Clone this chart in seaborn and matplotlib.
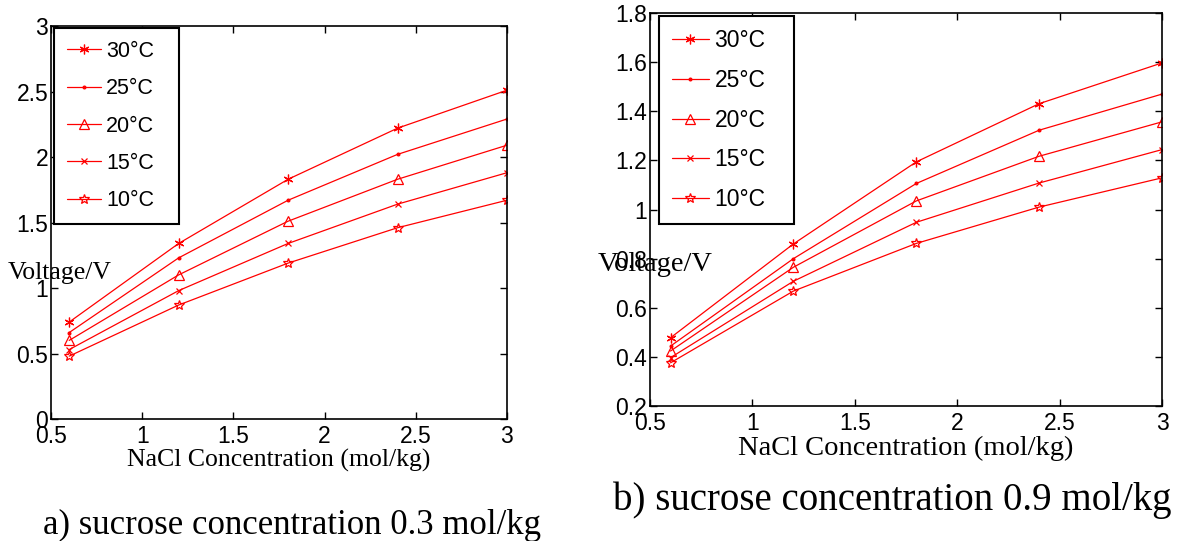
import matplotlib
matplotlib.use("Agg")
import matplotlib.pyplot as plt
import seaborn as sns
import pandas as pd
from matplotlib.ticker import FuncFormatter

# NaCl concentration (mol/kg)
nacl = [0.6, 1.2, 1.8, 2.4, 3.0]
temps = ["30°C", "25°C", "20°C", "15°C", "10°C"]

# panel a) sucrose 0.3 mol/kg
volt_a_30 = [0.74, 1.34, 1.83, 2.22, 2.51]
volt_a_25 = [0.66, 1.23, 1.67, 2.02, 2.29]
volt_a_20 = [0.60, 1.10, 1.51, 1.83, 2.09]
volt_a_15 = [0.53, 0.98, 1.34, 1.64, 1.88]
volt_a_10 = [0.48, 0.87, 1.19, 1.46, 1.67]

# panel b) sucrose 0.9 mol/kg
volt_b_30 = [0.478, 0.86, 1.194, 1.431, 1.597]
volt_b_25 = [0.444, 0.80, 1.106, 1.323, 1.470]
volt_b_20 = [0.424, 0.765, 1.035, 1.217, 1.357]
volt_b_15 = [0.397, 0.708, 0.948, 1.108, 1.244]
volt_b_10 = [0.376, 0.668, 0.862, 1.010, 1.129]

captions = ["a) sucrose concentration 0.3 mol/kg",
            "b) sucrose concentration 0.9 mol/kg"]

sns.set_theme(style="ticks")
plt.rcParams["font.family"] = ["Liberation Sans", "DejaVu Sans"]
plt.rcParams["text.color"] = "black"
plt.rcParams["axes.labelcolor"] = "black"

markers = [(6, 2, 0), ".", "^", "x", "*"]
msizes = [7, 4, 7, 5, 7]
mfcs = ["red", "red", "none", "red", "none"]


def make_df(series):
    rows = []
    for t, vals in zip(temps, series):
        for x, v in zip(nacl, vals):
            rows.append({"NaCl": x, "Voltage": v, "Temp": t})
    return pd.DataFrame(rows)


df_a = make_df([volt_a_30, volt_a_25, volt_a_20, volt_a_15, volt_a_10])
df_b = make_df([volt_b_30, volt_b_25, volt_b_20, volt_b_15, volt_b_10])

fig = plt.figure(figsize=(11.77, 5.41), dpi=100)
ax_a = fig.add_axes([0.0433, 0.2255, 0.3874, 0.7264])
ax_b = fig.add_axes([0.5523, 0.2495, 0.435, 0.7264])

panels = [
    (ax_a, df_a, (0, 3), [0, 0.5, 1, 1.5, 2, 2.5, 3], 15.5, 18.5,
     (0.0066, 0.3, 0.274, 0.695), (0.02, 0.371), 1.58, 0.76, 0.6),
    (ax_b, df_b, (0.2, 1.8), [0.2, 0.4, 0.6, 0.8, 1, 1.2, 1.4, 1.6, 1.8], 16.5, 20.5,
     (0.0176, 0.3, 0.264, 0.692), (0.01, 0.359), 1.6, 0.73, 0.57),
]

for ax, df, ylim, yticks, lfs, labfs, lbox, ycoords, hl, lsp, bpad in panels:
    for i, t in enumerate(temps):
        sub = df[df["Temp"] == t]
        sns.lineplot(data=sub, x="NaCl", y="Voltage", ax=ax, color="red",
                     lw=0.9, marker=markers[i], ms=msizes[i], mfc=mfcs[i],
                     mec="red", mew=0.9, label=t)
    ax.set_xlim(0.5, 3)
    ax.set_ylim(*ylim)
    ax.set_xticks([0.5, 1, 1.5, 2, 2.5, 3])
    ax.set_yticks(yticks)
    fmt = FuncFormatter(lambda v, p: "%g" % v)
    ax.xaxis.set_major_formatter(fmt)
    ax.yaxis.set_major_formatter(fmt)
    ax.tick_params(direction="in", top=True, right=True, length=5, width=1,
                   labelsize=16.5, colors="black")
    ax.tick_params(axis="y", pad=2)
    ax.tick_params(axis="x", pad=4)
    for s in ax.spines.values():
        s.set_color("black")
        s.set_linewidth(1.2)
    ax.set_xlabel("NaCl Concentration (mol/kg)", family="Liberation Serif",
                  fontsize=labfs, labelpad=1)
    ax.set_ylabel("Voltage/V", family="Liberation Serif", fontsize=labfs,
                  rotation=0, ha="center", va="center")
    ax.yaxis.set_label_coords(*ycoords)
    leg = ax.legend(loc="upper left", bbox_to_anchor=lbox, mode="expand",
                    borderaxespad=0, fontsize=lfs, fancybox=False,
                    edgecolor="black", framealpha=1, handlelength=hl,
                    handletextpad=0.25, labelspacing=lsp, borderpad=bpad)
    leg.get_frame().set_linewidth(1.5)

fig.text(292 / 1177, 1 - 525 / 541, captions[0], family="Liberation Serif",
         fontsize=25, ha="center", va="center")
fig.text(892 / 1177, 1 - 500 / 541, captions[1], family="Liberation Serif",
         fontsize=28, ha="center", va="center")

fig.savefig("out.png", dpi=100)
